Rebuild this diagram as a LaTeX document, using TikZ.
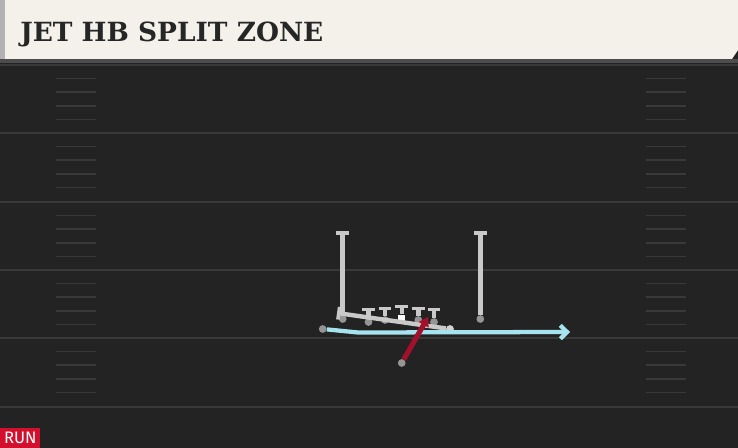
\documentclass[tikz,border=0pt]{standalone}
\usepackage{fontspec}
\newfontfamily\titlefont{DejaVu Serif}
\newfontfamily\tagfont{Fira Sans}
\usetikzlibrary{arrows.meta}

\definecolor{turf}{HTML}{232323}
\definecolor{yardline}{HTML}{393939}
\definecolor{cream}{HTML}{F4F1EA}
\definecolor{routegray}{HTML}{C9C9C9}
\definecolor{dotgray}{HTML}{959595}
\definecolor{jetblue}{HTML}{A6E3EF}
\definecolor{runred}{HTML}{A3102C}
\definecolor{tagred}{HTML}{D2102E}

\tikzset{
  yard/.style={draw=yardline, line width=1.6pt},
  hashmark/.style={draw=yardline, line width=1.3pt},
  player/.style={circle, fill=dotgray, inner sep=0pt, minimum size=5.8pt},
  snapper/.style={rectangle, fill=white, inner sep=0pt, minimum size=5.2pt},
  route/.style={draw=routegray, line width=4pt, -{Bar[width=10pt, line width=3pt]}},
  block/.style={draw=routegray, line width=3.3pt, -{Bar[width=9.5pt, line width=2.6pt]}},
  jet/.style={draw=jetblue, line width=3.2pt, -{Straight Barb[length=5pt, width=10pt]}},
  run/.style={draw=runred, line width=3.8pt, -{Triangle[length=7pt, width=8pt]}}
}

\begin{document}
\begin{tikzpicture}[x=0.75pt, y=-0.75pt]
  \useasboundingbox (0,0) rectangle (738,448);
  \fill[turf] (0,0) rectangle (738,448);

  % yard lines and hash marks
  \foreach \y in {65,133,202,270,338,407}
    \draw[yard] (0,\y) -- (738,\y);
  \foreach \y in {65,133,202,270,338}
    \foreach \k in {1,2,3,4}
      \draw[hashmark] (56,\y+13.6*\k) -- (96,\y+13.6*\k)
                      (646,\y+13.6*\k) -- (686,\y+13.6*\k);

  % header
  \fill[black!70] (0,59) rectangle (738,63);
  \fill[cream] (0,0) -- (738,0) -- (738,50) -- (732,59) -- (0,59) -- cycle;
  \fill[gray!60] (0,0) rectangle (5,59);
  \node[anchor=base west, inner sep=0pt, text=black!85,
        font=\titlefont\bfseries\fontsize{19.8}{24}\selectfont] (title) at (20,42) {JET HB SPLIT ZONE};

  % play tag
  \node[anchor=south west, fill=tagred, text=white, inner sep=0pt,
        minimum width=30pt, minimum height=15pt,
        font=\tagfont\fontsize{12.5}{12.5}\selectfont] (tag) at (0,448) {RUN};

  % players
  \node[player] (lwr) at (342.7,319) {};
  \node[player] (rwr) at (480.3,319) {};
  \node[player] (slot) at (322.7,329) {};
  \node[player] (hb) at (401.7,363) {};
  \node[player, fill=gray!35] (hback) at (450,329) {};
  \foreach \name/\x/\y in {lt/368.5/322, lg/385/320, rg/418.3/320, rt/434/322}
    \node[player] (\name) at (\x,\y) {};
  \node[snapper] (c) at (401.7,318) {};

  % routes
  \coordinate (lwr end) at (342.7,231);
  \coordinate (rwr end) at (480.3,231);
  \draw[route] (lwr) -- (lwr end);
  \draw[route] (rwr) -- (rwr end);
  \foreach \name/\x/\y in {lt/368.5/308, lg/385/307, c/401.7/305, rg/418.3/307, rt/434/308}
    \draw[block] (\name) -- (\x,\y);
  \coordinate (block end) at (337,313);
  \draw[block] (hback) -- (block end);

  % jet motion and handoff
  \coordinate (jet turn) at (358,332.5);
  \coordinate (jet end) at (570,332);
  \draw[jet] (slot) -- (jet turn) -- (jet end);
  \coordinate (mesh) at (428.3,316.7);
  \draw[run] (hb) -- (mesh);

\end{tikzpicture}
\end{document}
